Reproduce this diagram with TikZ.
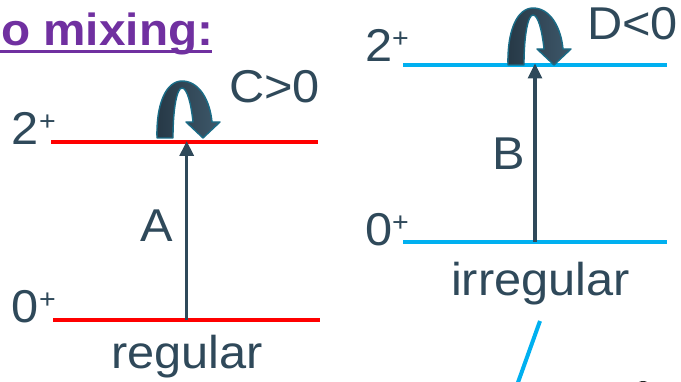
\documentclass[tikz,border=0pt]{standalone}
\usepackage{fontspec}
\setmainfont{Liberation Sans}[FakeStretch=1.06]
\usetikzlibrary{arrows.meta}
\definecolor{slate}{RGB}{47,73,90}
\definecolor{slatedark}{RGB}{38,56,70}
\definecolor{slatelight}{RGB}{62,88,106}
\definecolor{tealedge}{RGB}{26,108,135}
\definecolor{lvlred}{RGB}{255,0,0}
\definecolor{lvlcyan}{RGB}{0,176,240}
\definecolor{titlepurple}{RGB}{112,48,160}
\tikzset{
  lbl/.style={anchor=base west, inner sep=0pt, outer sep=0pt, text=slate, font=\fontsize{46}{46}\selectfont},
  captxt/.style={anchor=base west, inner sep=0pt, outer sep=0pt, text=slate, font=\fontsize{46}{46}\selectfont},
  redlvl/.style={draw=lvlred, line width=4pt},
  cyanlvl/.style={draw=lvlcyan, line width=4pt},
  trans/.style={draw=slate, line width=3.2pt, -{Triangle[width=14pt,length=15pt]}},
  curl/.style={left color=slatedark, right color=slatelight, draw=tealedge, line width=1.4pt, line join=round},
}
\newcommand{\lev}[1]{#1\raisebox{14pt}{\fontsize{27}{27}\selectfont +}}
\begin{document}
\begin{tikzpicture}[x=1pt,y=-1pt]
\useasboundingbox (0,0) rectangle (681,382);
\clip (0,0) rectangle (681,382);
% title
\node[anchor=base west, inner sep=0pt, text=titlepurple, font=\fontsize{45}{45}\selectfont\bfseries] (title) at (1,46) {o mixing:};
\draw[titlepurple, line width=3pt] (0,52) -- (212,52);
% left levels
\coordinate (l2a) at (51,142.5); \coordinate (l2b) at (318,142.5);
\coordinate (l0a) at (53,320.5); \coordinate (l0b) at (320,320.5);
\draw[redlvl] (l2a) -- (l2b);
\draw[redlvl] (l0a) -- (l0b);
\coordinate (ra0) at (186.7,320.5); \coordinate (ra2) at (186.7,141);
\draw[trans] (ra0) -- (ra2);
\node[lbl] (t2l) at (12,145) {\lev{2}};
\node[lbl] (t0l) at (12,323) {\lev{0}};
\node[lbl] (tA) at (140,242) {A};
\node[lbl] (tC) at (229,103) {C>0};
\node[captxt] (treg) at (111,369) {regular};
% right levels
\coordinate (r2a) at (403,65); \coordinate (r2b) at (667,65);
\coordinate (r0a) at (403,242); \coordinate (r0b) at (667,242);
\draw[cyanlvl] (r2a) -- (r2b);
\draw[cyanlvl] (r0a) -- (r0b);
\coordinate (rb0) at (535,242); \coordinate (rb2) at (535,63.5);
\draw[trans] (rb0) -- (rb2);
\node[lbl] (t2r) at (365,62) {\lev{2}};
\node[lbl] (t0r) at (365,246) {\lev{0}};
\node[lbl] (tB) at (492,170) {B};
\node[lbl] (tD) at (587,40) {D<0};
\node[captxt] (tirr) at (451,296) {irregular};
% curled arrows
\foreach \dx/\dy in {0/0, 351/-73}{
\begin{scope}[shift={(\dx,\dy)}]
\path[curl] (157,138) .. controls (156,104) and (166,81) .. (182,81)
  .. controls (199,81) and (210,100) .. (212,122)
  -- (220,122) -- (203,138) -- (186,122) -- (193,122)
  .. controls (191,103) and (187,88) .. (182,88)
  .. controls (177,88) and (173,108) .. (173,138) -- cycle;
\end{scope}}
% bottom right fragments
\coordinate (cy1) at (540,321); \coordinate (cy2) at (516,388);
\draw[lvlcyan, line width=4pt] (cy1) -- (cy2);
\fill[black!85] (643,385) ellipse (6pt and 4pt);
\end{tikzpicture}
\end{document}
